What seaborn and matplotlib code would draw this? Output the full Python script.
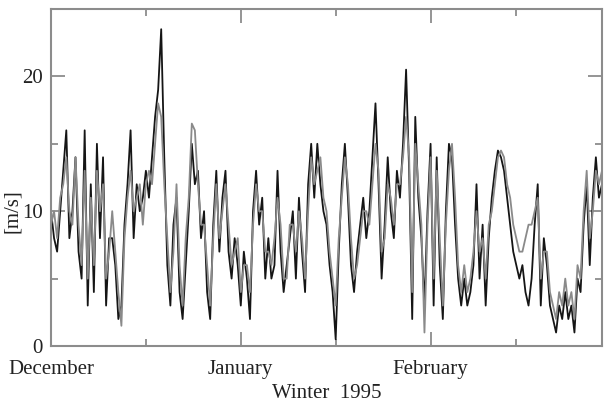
import numpy as np
import pandas as pd
import matplotlib
matplotlib.use("Agg")
import matplotlib.pyplot as plt
import seaborn as sns
from matplotlib.ticker import FixedLocator

# half-day time steps from 1 December (day 0) to 1 March (day 90)
days = [i * 0.5 for i in range(181)]

observed = [10,8,7,10,13,16,8,10,14,7, 5,16,3,12,4,15,8,14,3,8,
            8,6,2,3,9,12,16,8,12,10, 11,13,11,14,17,19,23.5,14,6,3,
            9,11,4,2,6,10,15,12,13,8, 10,4,2,9,13,7,11,13,7,5,
            8,6,3,7,5,2,10,13,9,11, 5,8,5,6,13,7,4,6,8,10,
            5,11,7,4,12,15,11,15,12,10, 9,6,4,0.5,7,12,15,11,6,4,
            7,9,11,8,10,14,18,12,5,9, 14,10,8,13,11,15,20.5,13,2,17,
            11,8,3,10,15,3,14,6,2,10, 15,14,9,5,3,5,3,4,6,12,
            5,9,3,8,11,13,14.5,14,13,11, 9,7,6,5,6,4,3,5,9,12,
            3,8,6,3,2,1,3,2,4,2, 3,1,5,4,9,12,6,11,14,11,
            12]

model = [9,10,8,11,12,14,10,9,14,9, 6,13,5,11,6,13,10,12,5,7,
         10,7,4,1.5,8,11,13,10,11,12, 9,12,13,12,15,18,17,12,8,4,
         7,12,6,3,8,11,16.5,16,12,9, 9,6,3,8,12,8,10,12,9,6,
         7,8,4,6,6,4,9,12,10,10, 7,7,6,8,11,9,5,5,9,9,
         7,10,8,5,10,14,12,13,14,11, 10,7,5,3,8,11,14,12,8,5,
         6,8,10,10,9,12,15,13,7,8, 12,11,9,12,12,14,17,14,4,15,
         12,9,1,9,14,5,13,8,3,9, 13,15,11,6,4,6,4,5,7,10,
         7,8,5,9,10,12,14,14.5,14,12, 11,9,8,7,7,8,9,9,10,11,
         5,7,7,4,3,2,4,3,5,3, 4,2,6,5,10,13,8,10,13,12,
         13]

month_pos = [0, 31, 62]
month_labels = ["December", "January", "February"]
mid_pos = [15.5, 46.5, 76]
y_major = [0, 10, 20]
y_minor = [5, 15]

df = pd.DataFrame({
    "day": days * 2,
    "speed": observed + model,
    "series": ["observed"] * len(days) + ["model"] * len(days),
})

sns.set_style("ticks")
plt.rcParams["font.family"] = ["Liberation Serif", "DejaVu Serif"]

fig = plt.figure(figsize=(6.04, 4.03), dpi=100)
ax = fig.add_axes([51 / 604, 57 / 403, 551 / 604, 337 / 403])

sns.lineplot(data=df, x="day", y="speed", hue="series",
             palette={"observed": "#151515", "model": "#8a8a8a"},
             linewidth=1.3, legend=False, ax=ax, estimator=None)

ax.set_xlim(0, 90)
ax.set_ylim(0, 25)
ax.xaxis.set_major_locator(FixedLocator(month_pos))
ax.set_xticklabels(month_labels)
ax.xaxis.set_minor_locator(FixedLocator(mid_pos))
ax.yaxis.set_major_locator(FixedLocator(y_major))
ax.set_yticklabels([str(v) for v in y_major])
ax.yaxis.set_minor_locator(FixedLocator(y_minor))

spine_col = "#8c8c8c"
for s in ax.spines.values():
    s.set_color(spine_col)
    s.set_linewidth(1.5)
ax.tick_params(which="both", direction="in", top=True, right=True,
               color=spine_col, width=1.3, labelsize=15, labelcolor="#222222")
ax.tick_params(axis="x", which="major", length=10, pad=10)
ax.tick_params(axis="y", which="major", length=10, pad=6)
ax.tick_params(which="minor", length=5)

ax.set_xlabel("Winter  1995", fontsize=15, color="#222222", labelpad=4)
ax.set_ylabel("[m/s]", fontsize=15, color="#222222")
ax.yaxis.set_label_coords(-0.052, 0.40)

fig.savefig("out.png", dpi=100)
